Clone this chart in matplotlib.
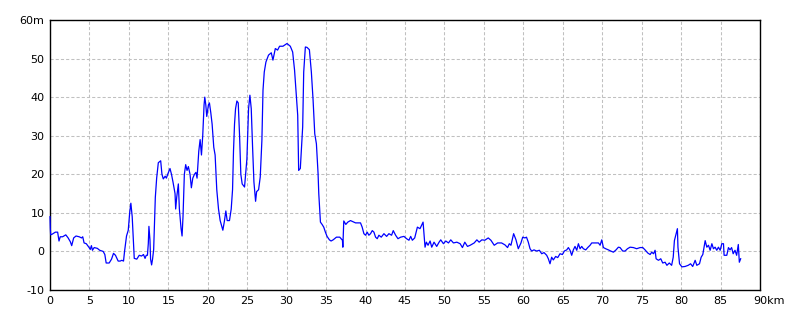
import matplotlib
matplotlib.use("Agg")
import matplotlib.pyplot as plt
import matplotlib.transforms as mtransforms
import numpy as np

# distance along route (km) and elevation (m)
km_0 = [0.0, 0.04, 0.08, 0.3, 0.68, 0.97, 1.14, 1.3, 1.6, 2.0, 2.3, 2.58, 2.75, 3.0,
        3.3, 3.7, 4.0, 4.15, 4.32, 4.6, 4.96, 5.1, 5.25, 5.38, 5.6, 6.0, 6.3, 6.74,
        6.95, 7.12, 7.5, 7.8, 8.05, 8.3, 8.64, 8.9, 9.1, 9.32, 9.45, 9.7, 9.92,
        10.1, 10.25, 10.42, 10.59, 10.68, 11.0, 11.31, 11.6, 11.85, 12.05, 12.2,
        12.35, 12.46, 12.54, 12.67, 12.75, 12.88, 13.0, 13.14, 13.35, 13.52,
        13.73, 14.03, 14.19, 14.36, 14.6, 14.75, 14.92, 15.21, 15.4, 15.59,
        15.85, 15.93, 16.06, 16.27, 16.4, 16.61, 16.74, 16.86, 17.03, 17.2,
        17.37, 17.54, 17.75, 17.92, 18.1, 18.31, 18.5, 18.64, 18.86, 19.03,
        19.2, 19.36, 19.53, 19.62, 19.75, 19.87, 20.08, 20.21, 20.38, 20.55,
        20.76, 20.93, 21.14, 21.36, 21.57, 21.78, 21.91, 22.12, 22.29, 22.46,
        22.75, 22.97, 23.14, 23.26, 23.39, 23.52, 23.69, 23.86, 24.03, 24.19,
        24.36, 24.66, 24.96, 25.17, 25.34, 25.51, 25.68, 25.85, 26.06, 26.19,
        26.44, 26.65]
elev_0 = [9.0, 6.0, 4.3, 4.5, 5.0, 5.0, 2.7, 3.8, 3.8, 4.3, 3.5, 2.5, 1.5, 3.5,
          4.0, 3.8, 3.5, 3.8, 2.2, 2.0, 1.0, 0.5, 1.5, 0.3, 1.0, 0.8, 0.3, 0.0,
          -0.8, -3.0, -3.0, -2.0, -0.5, -1.0, -2.5, -2.5, -2.3, -2.5, 0.0, 4.0,
          5.5, 10.0, 12.5, 9.0, 2.0, -1.8, -2.0, -1.0, -1.2, -0.8, -1.8, -1.0,
          -1.0, 2.0, 6.5, 3.0, -2.0, -3.5, -2.0, 0.5, 14.0, 19.0, 23.0, 23.5,
          20.0, 18.8, 19.5, 19.0, 20.0, 21.5, 20.0, 18.0, 15.0, 11.0, 14.0,
          17.5, 11.0, 6.0, 4.0, 9.0, 20.0, 22.5, 21.0, 22.0, 20.0, 16.5, 19.0,
          20.0, 20.5, 19.0, 26.0, 29.0, 25.0, 30.0, 38.0, 40.0, 38.0, 35.0, 38.0,
          38.5, 36.0, 33.0, 27.0, 25.0, 16.0, 11.0, 8.0, 6.5, 5.5, 8.0, 10.5,
          8.0, 8.0, 11.0, 16.0, 26.0, 33.0, 37.0, 39.0, 38.5, 30.0, 20.0, 17.5,
          16.7, 24.0, 37.0, 40.5, 37.0, 27.0, 18.0, 13.0, 15.5, 16.0, 19.3]

km_1 = [26.86, 27.0, 27.16, 27.37, 27.7, 28.05, 28.26, 28.56, 28.85, 29.1, 29.53,
        30.04, 30.46, 30.76, 31.0, 31.23, 31.4, 31.52, 31.73, 31.86, 32.03,
        32.16, 32.37, 32.58, 32.88, 33.13, 33.35, 33.56, 33.77, 33.98, 34.07,
        34.19, 34.28, 34.49, 34.7, 34.91, 35.12, 35.42, 35.63, 35.89, 36.31,
        36.73, 37.07, 37.12, 37.24, 37.5, 37.75, 38.09, 38.73, 39.36, 39.57,
        39.79, 40.0, 40.21, 40.42, 40.63, 40.85, 41.06, 41.27, 41.48, 41.69,
        41.99, 42.33, 42.67, 42.96, 43.3, 43.51, 43.81, 44.11, 44.45, 44.87,
        45.2, 45.5, 45.72, 45.93, 46.23, 46.57, 46.9, 47.29, 47.41, 47.54,
        47.71, 47.92, 48.18, 48.39, 48.68, 49.02, 49.32, 49.53, 49.87, 50.17,
        50.51, 50.8, 51.14, 51.57, 51.99, 52.28, 52.58, 52.92, 53.26, 53.77,
        54.11, 54.4, 54.74, 55.12, 55.55, 55.89, 56.31, 56.74, 57.24, 57.67,
        58.0, 58.22, 58.43, 58.77, 59.07, 59.36, 59.7]
elev_1 = [28.8, 41.8, 46.5, 49.1, 50.9, 51.5, 49.6, 52.6, 52.2, 53.2, 53.2, 53.9,
          53.2, 51.7, 47.0, 40.5, 35.3, 21.0, 21.5, 26.2, 32.3, 46.5, 53.0, 52.9,
          52.3, 46.5, 39.2, 30.5, 27.9, 20.2, 15.0, 10.6, 7.6, 7.0, 6.3, 5.0, 3.9,
          3.0, 2.7, 3.0, 3.7, 3.7, 2.9, 1.1, 7.9, 7.0, 7.6, 8.0, 7.4, 7.4, 6.3,
          4.6, 4.2, 5.0, 4.2, 4.6, 5.4, 5.0, 3.7, 3.3, 4.2, 3.7, 4.6, 3.9, 4.6,
          4.2, 5.4, 4.2, 3.3, 3.7, 3.9, 3.3, 2.9, 3.9, 2.9, 3.5, 6.3, 5.9, 7.6,
          4.6, 1.1, 2.4, 1.6, 2.7, 1.1, 2.4, 1.3, 2.4, 3.0, 2.0, 2.7, 2.2, 3.0,
          2.2, 2.4, 2.0, 1.0, 2.4, 1.3, 1.6, 2.2, 3.0, 2.4, 3.0, 2.9, 3.5, 2.9,
          1.6, 2.2, 2.2, 1.7, 1.0, 2.0, 1.6, 4.6, 3.0, 0.7, 2.2]

km_2 = [59.92, 60.2, 60.4, 60.63, 60.85, 61.06, 61.35, 61.69, 62.03, 62.33,
        62.62, 62.96, 63.17, 63.38, 63.59, 63.8, 64.1, 64.36, 64.65, 64.95,
        65.2, 65.5, 65.71, 65.92, 66.13, 66.34, 66.55, 66.77, 66.98, 67.19,
        67.4, 67.61, 67.91, 68.16, 68.46, 68.67, 69.1, 69.52, 69.73, 69.94,
        70.15, 70.44, 70.78, 71.08, 71.42, 71.75, 72.05, 72.26, 72.6, 72.9,
        73.2, 73.53, 73.95, 74.37, 74.8, 75.14, 75.43, 75.77, 76.07, 76.28,
        76.5, 76.7, 76.83, 77.13, 77.42, 77.67, 77.97, 78.2, 78.5, 78.8, 79.0,
        79.15, 79.37, 79.53, 79.6, 79.8, 80.1, 80.5, 80.9, 81.2, 81.47, 81.78,
        81.99, 82.33, 82.54, 82.75, 83.05, 83.26, 83.47, 83.68, 83.9, 84.1,
        84.31, 84.52, 84.73, 84.95, 85.16, 85.37, 85.45, 85.79, 86.0, 86.2,
        86.4, 86.6, 86.83, 87.04, 87.25, 87.38, 87.55]
elev_2 = [3.7, 3.5, 3.7, 2.4, 0.7, 0.1, 0.4, 0.1, 0.3, -0.6, -0.3, -1.0, -1.9,
          -3.2, -1.5, -2.2, -1.3, -1.6, -0.6, -0.8, 0.1, 0.4, 1.0, 0.3, -1.0,
          0.4, 1.3, 0.3, 2.0, 0.7, 1.3, 0.7, 0.4, 1.0, 1.6, 2.2, 2.2, 2.2, 1.6,
          3.0, 1.0, 0.7, 0.4, 0.1, -0.2, 0.4, 1.1, 1.0, 0.1, 0.1, 0.7, 1.1, 1.0,
          0.7, 1.0, 1.0, 0.4, -0.4, -0.8, -0.2, -0.6, 0.3, -1.9, -2.3, -1.9,
          -3.0, -2.8, -3.6, -3.0, -3.6, -1.5, 2.8, 4.6, 5.9, 1.1, -3.2, -4.0,
          -3.9, -3.6, -3.2, -3.9, -2.3, -3.6, -3.2, -1.5, -0.8, 2.8, 1.1, 1.6,
          0.3, 2.0, 0.7, 1.1, 0.3, 1.1, 0.3, 2.0, 2.0, -1.0, -1.0, 1.0, 0.4,
          1.0, -0.6, 0.3, -1.0, 1.8, -2.8, -1.9]

x_ticks = list(range(0, 91, 5))
x_labels = [str(v) for v in x_ticks[:-1]] + ["90km"]
y_ticks = list(range(-10, 61, 10))
y_labels = [str(v) for v in y_ticks[:-1]] + ["60m"]

km = np.array(km_0 + km_1 + km_2)
elev = np.array(elev_0 + elev_1 + elev_2)

fig = plt.figure(figsize=(8, 3.2), dpi=100)
ax = fig.add_axes([0.0625, 0.09375, 0.8875, 0.84375])

# drawn above the frame so the first drop at km 0 shows over the left spine
ax.plot(km, elev, color="#0000ff", linewidth=0.9, zorder=3, clip_on=False)

ax.set_xlim(0, 90)
ax.set_ylim(-10, 60)
ax.set_xticks(x_ticks)
ax.set_xticklabels(x_labels)
ax.set_yticks(y_ticks)
ax.set_yticklabels(y_labels)
ax.tick_params(length=0, labelsize=8, pad=4)
ax.grid(True, color="#c0c0c0", linestyle=(0, (3, 2)), linewidth=0.75)
ax.set_axisbelow(True)
for s in ax.spines.values():
    s.set_color("black")
    s.set_linewidth(1.0)

# keep the number of the last x label on its tick, with "km" trailing
last = ax.get_xticklabels()[-1]
last.set_horizontalalignment("left")
last.set_transform(last.get_transform() +
                   mtransforms.ScaledTranslation(-0.07, 0, fig.dpi_scale_trans))

fig.savefig("out.png", dpi=100)
